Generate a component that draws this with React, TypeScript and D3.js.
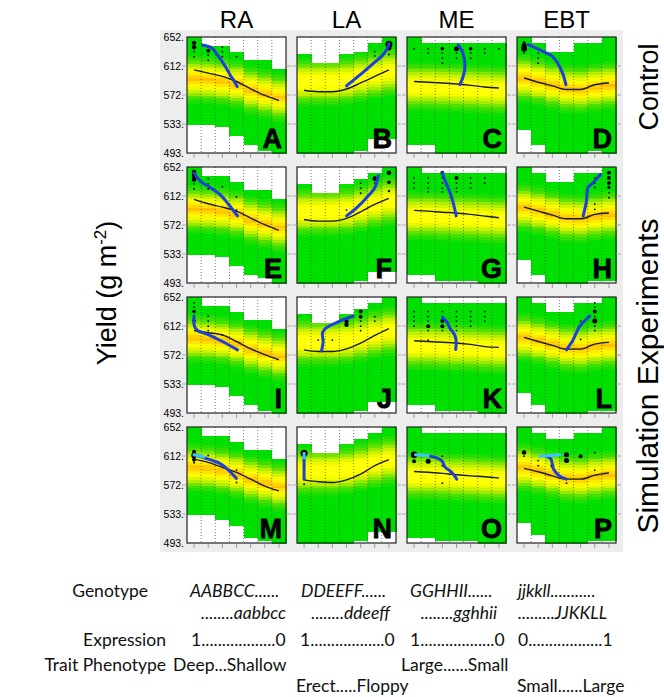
import React from "react";
import * as d3 from "d3";

// column / row labels
const colTitles = ["RA", "LA", "ME", "EBT"];
const panelLetters = "ABCDEFGHIJKLMNOP".split("");
const yTicks = [493, 532.75, 572.5, 612.25, 652];
const yTickLabels = ["493.", "533.", "572.", "612.", "652."];
const nCols = 7;

// top / bottom of the simulated yield range for each genotype column
const tops = [
  [652, 639, 639, 632, 621, 619, 608], [628, 615, 615, 628, 634, 645, 652], [652, 645, 645, 645, 645, 645, 645], [652, 645, 632, 632, 645, 645, 652],
  [652, 641, 641, 634, 621, 621, 610], [628, 617, 617, 628, 635, 646, 652], [652, 646, 646, 646, 646, 646, 646], [652, 646, 633, 633, 646, 646, 652],
  [652, 641, 641, 634, 621, 621, 610], [628, 617, 617, 628, 636, 646, 652], [652, 646, 646, 646, 646, 646, 646], [652, 646, 634, 634, 646, 646, 652],
  [652, 640, 640, 632, 621, 621, 609], [629, 615, 615, 629, 636, 646, 652], [652, 645, 645, 645, 645, 645, 645], [652, 645, 635, 635, 645, 645, 652],
];
const bottoms = [
  [533, 533, 528, 518, 505, 498, 493], [493, 493, 493, 493, 498, 511, 511], [503, 503, 493, 493, 493, 493, 493], [523, 503, 493, 493, 493, 498, 493],
  [534, 534, 528, 518, 504, 499, 493], [493, 493, 493, 493, 498, 509, 509], [503, 503, 497, 497, 497, 493, 493], [523, 504, 493, 493, 493, 498, 498],
  [533, 533, 527, 516, 503, 498, 493], [493, 493, 493, 493, 498, 508, 508], [503, 503, 498, 498, 498, 493, 493], [522, 503, 493, 493, 493, 498, 498],
  [532, 532, 526, 515, 502, 497, 493], [493, 493, 493, 493, 498, 508, 508], [502, 502, 497, 497, 497, 493, 493], [521, 503, 493, 493, 493, 498, 498],
];
// mean yield (black line)
const means = [
  [607, 602.5, 598, 591, 581, 572, 565], [579, 577, 577, 580.7, 589, 598, 607], [591, 590, 589, 587.6, 585.7, 583.5, 582], [595.8, 590, 585, 580, 580, 586.6, 589],
  [607.6, 601.6, 597, 591.5, 582, 573, 565], [580, 577.8, 577.8, 581.5, 590.6, 600.7, 609], [592.5, 591.5, 590, 589, 587, 584.7, 582.4], [597, 591.5, 586, 581, 581, 587, 589],
  [606, 603, 600, 591, 581, 573, 566], [579.6, 577.3, 577.3, 581, 588.8, 599.4, 608.7], [592, 591, 590, 589, 587, 584, 583], [596.7, 591, 585.6, 580.5, 580.5, 587.5, 589.8],
  [608, 603.6, 596.7, 589.8, 580.5, 571, 564.4], [579.6, 577, 576, 579.6, 587.5, 599, 607.3], [591, 590, 588.4, 586.5, 585, 583.8, 582], [595.3, 590.7, 585, 580.5, 580.5, 586, 589],
];
// centre of the densest yield band per column
const bands = [
  [595, 594, 592, 588, 580, 575, 570], [591, 591, 591, 593, 597, 601, 605], [585, 585, 584, 583, 582, 581, 580], [596, 592, 587, 582, 581, 584, 586],
  [595, 594, 592, 588, 580, 575, 570], [591, 591, 591, 593, 597, 602, 606], [586, 586, 585, 584, 583, 582, 581], [597, 593, 588, 583, 582, 585, 587],
  [596, 595, 593, 588, 581, 576, 571], [591, 591, 591, 593, 597, 602, 606], [586, 586, 585, 584, 583, 582, 581], [597, 593, 588, 583, 582, 585, 587],
  [597, 596, 593, 588, 581, 576, 571], [592, 592, 592, 594, 598, 603, 607], [586, 586, 585, 584, 583, 582, 581], [597, 593, 588, 583, 582, 585, 587],
];
const peaks = [1, 0, 0, 1, 1, 0, 0, 1, 1, 0, 0, 1, 1, 0, 0, 1];

// selection trajectories [column, yield]
const blues = [
  [[0.6, 641], [1.25, 637], [1.7, 626], [2.2, 612], [2.55, 600], [2.85, 591], [3.05, 584]],
  [[3.0, 585], [3.95, 600], [4.9, 616], [5.6, 628], [5.95, 639], [6.0, 643]],
  [[3.12, 641.5], [3.45, 630], [3.6, 612], [3.47, 598], [3.24, 586.6]],
  [[0.28, 641.5], [1.08, 634.6], [2.0, 625.5], [2.37, 616], [2.72, 602.6], [2.96, 586.6]],
  [[0.0, 644], [0.42, 633], [1.13, 624], [1.84, 614], [2.43, 601], [3.07, 585]],
  [[3.0, 585], [3.71, 596], [4.42, 610], [5.01, 624], [5.25, 640]],
  [[2.0, 644], [2.16, 635], [2.5, 619], [2.74, 605], [2.98, 585]],
  [[4.18, 585], [4.41, 605], [4.53, 624], [4.89, 630.5], [5.41, 642]],
  [[0.0, 626], [0.0, 614], [0.18, 607], [1.0, 600.4], [2.0, 591], [3.07, 579.6]],
  [[1.23, 578], [1.35, 591], [1.3, 603], [1.58, 610], [2.53, 619], [3.48, 626]],
  [[2.0, 624], [2.28, 619], [2.52, 610], [2.87, 600], [2.98, 591], [2.94, 580]],
  [[3.0, 579.6], [3.47, 593.5], [3.94, 612], [4.65, 625.7]],
  [[0.0, 614], [1.0, 608], [1.93, 601], [3.0, 581.5]],
  [[0, 580.5], [0, 599], [0, 613]],
  [[1.0, 612.8], [1.95, 606], [2.19, 597], [2.66, 590], [3.02, 580.5]],
  [[1.58, 612], [1.9, 608], [2.09, 594], [2.5, 585], [2.98, 580.5]],
];
const cyans = [
  [], [], [], [], [], [], [], [], [], [], [], [],
  [[0.0, 614], [0.7, 611]],
  [[0, 616], [0, 610]],
  [[0.1, 614], [1.0, 612.8]],
  [[1.1, 612], [2.55, 614]],
];
// simulation end points [column, yield, size]
const dots = [
  [[0, 644, 2.2], [0, 638, 2.2], [0, 632, 0.9], [0, 625, 0.9], [1, 638, 0.9], [1, 633, 2], [1, 627, 0.9], [1, 620, 0.9], [2, 638, 0.9], [2, 632, 0.9], [2, 625, 0.9], [3, 625, 0.9]],
  [[6, 642, 3.5], [6, 637, 2.5], [5, 632, 0.9], [5, 626, 0.9], [6, 628, 0.9]],
  [[0, 636, 0.9], [1, 636, 0.9], [2, 636, 1.8], [3, 636, 2.5], [4, 636, 1.8], [5, 636, 0.9], [6, 636, 0.9], [1, 630, 0.9], [2, 630, 0.9], [3, 630, 0.9], [4, 630, 0.9], [5, 630, 0.9], [2, 623, 0.9], [3, 623, 0.9], [4, 623, 0.9], [2, 616, 0.9]],
  [[0, 644, 1.5], [0, 640, 2.5], [0, 636, 3], [0, 630, 0.9], [1, 636, 0.9], [1, 630, 0.9], [1, 623, 0.9], [1, 616, 0.9]],
  [[0, 645, 2.3], [0, 640, 2.3], [0, 635, 2.3], [0, 629, 0.9], [0, 622, 0.9], [1, 636, 0.9], [1, 629, 0.9], [1, 622, 0.9], [2, 625, 0.9], [2, 611, 0.9], [3, 611, 0.9], [3, 593, 0.9]],
  [[6, 644, 2.3], [6, 631, 1.8], [6, 619, 1.2], [5, 636, 2.3], [5, 630, 0.9], [4, 630, 0.9], [4, 623, 0.9], [4, 616, 0.9], [3, 593, 0.9]],
  [[0, 637, 0.9], [1, 637, 0.9], [2, 644, 2], [2, 637, 0.9], [3, 637, 2], [4, 637, 0.9], [5, 637, 0.9], [0, 630, 0.9], [1, 630, 0.9], [2, 630, 0.9], [3, 630, 0.9], [4, 630, 0.9], [5, 630, 0.9], [0, 623, 0.9], [1, 623, 0.9], [2, 623, 0.9], [3, 623, 0.9], [4, 623, 0.9], [1, 618, 0.9], [2, 618, 0.9], [3, 618, 0.9]],
  [[6, 644, 2], [6, 637, 2], [6, 630, 2], [6, 624, 1.6], [6, 617, 0.9], [6, 610, 0.9], [5, 637, 0.9], [5, 630, 0.9], [5, 624, 0.9], [5, 601, 0.9], [5, 594, 0.9]],
  [[0, 644, 0.9], [0, 638, 0.9], [0, 632, 1.8], [0, 626, 0.9], [0, 619, 1.8], [1, 626, 0.9], [1, 619, 0.9], [1, 612, 0.9], [1, 606, 0.9], [2, 600, 0.9]],
  [[3, 619, 2.2], [3, 614, 2.2], [4, 632, 2], [4, 625, 2], [4, 619, 0.9], [4, 612, 0.9], [4, 606, 0.9], [5, 625, 0.9], [5, 619, 0.9], [1, 593, 0.9], [2, 593, 0.9]],
  [[0, 632, 0.9], [1, 632, 0.9], [2, 632, 0.9], [3, 632, 0.9], [4, 632, 0.9], [5, 632, 0.9], [0, 625, 0.9], [1, 625, 0.9], [2, 625, 0.9], [3, 625, 0.9], [4, 625, 0.9], [5, 625, 0.9], [0, 619, 0.9], [1, 619, 0.9], [2, 619, 2], [3, 619, 0.9], [4, 619, 0.9], [5, 619, 0.9], [0, 612, 0.9], [1, 612, 2], [2, 612, 2], [3, 612, 0.9], [4, 612, 0.9], [1, 606, 0.9], [2, 606, 0.9], [3, 606, 0.9], [1, 593, 0.9]],
  [[5, 644, 0.9], [5, 638, 0.9], [5, 632, 2], [5, 625, 0.9], [5, 619, 2.5], [5, 612, 0.9], [5, 606, 0.9], [4, 619, 0.9], [4, 612, 0.9], [4, 594, 0.9]],
  [[0, 618, 2], [0, 613, 2.8], [0, 607, 2], [0, 603, 0.9], [1, 613, 0.9], [3, 593, 0.9], [3, 576, 0.9]],
  [[0, 616, 3.5], [0, 573.6, 0.9]],
  [[0, 614, 3.2], [0, 605, 2], [1, 605, 2.5], [1, 613, 0.9], [2, 612, 0.9], [2, 599, 0.9], [2, 575, 0.9]],
  [[0, 617, 2.2], [0, 612, 0.9], [1, 606, 0.9], [1, 599, 0.9], [2, 599, 2], [3, 614, 2.5], [3, 606, 2.5], [4, 612, 2], [5, 617, 0.9], [5, 593, 0.9], [3, 575, 0.9]],
];

// bottom annotation text
const genotypeTop = ["AABBCC......", "DDEEFF......", "GGHHII......", "jjkkll..........."];
const genotypeBottom = ["........aabbcc", "........ddeeff", "........gghhii", ".........JJKKLL"];
const expression = ["1..................0", "1..................0", "1..................0", "0..................1"];
const traitTop = ["Deep...Shallow", "", "Large......Small", ""];
const traitBottom = ["", "Erect.....Floppy", "", "Small......Large"];

const panelLeft = [187, 297, 407, 517];
const panelTop = [37, 167, 297, 427];
const pw = 99;
const ph = 116;

const x = d3.scaleLinear().domain([-0.5, nCols - 0.5]).range([0, pw]);
const y = d3.scaleLinear().domain([493, 652]).range([ph, 0]);
const binEdges = d3.range(41).map((k) => 493 + (k * 159) / 40);

const hot = d3.scaleLinear<string>()
  .domain([0, 0.18, 0.4, 0.7, 1.0, 1.4])
  .range(["#ffbc00", "#ffe000", "#ffff00", "#c4f000", "#4ae000", "#00e000"])
  .clamp(true);
const mild = d3.scaleLinear<string>()
  .domain([0, 0.3, 0.65, 1.0, 1.4])
  .range(["#ffff10", "#ffff00", "#c4f000", "#4ae000", "#00e000"])
  .clamp(true);

const meanLine = d3.line<number>().x((_, i) => x(i)).y((d) => y(d)).curve(d3.curveMonotoneX);
const trajLine = d3.line<number[]>().x((d) => x(d[0])).y((d) => y(d[1])).curve(d3.curveCatmullRom.alpha(0.5));

const Panel = ({ p }: { p: number }) => {
  const r = Math.floor(p / 4);
  const c = p % 4;
  const scale = peaks[p] ? hot : mild;
  const spread = 25;
  return (
    <g transform={`translate(${panelLeft[c]},${panelTop[r]})`}>
      <rect width={pw} height={ph} fill="#fff" />
      {d3.range(nCols).map((i) =>
        binEdges.slice(0, -1).map((lo, k) => {
          const hi = binEdges[k + 1];
          const mid = (lo + hi) / 2;
          if (mid < bottoms[p][i] || mid > tops[p][i]) return null;
          const d = Math.abs(mid - bands[p][i]) / spread;
          return (
            <rect key={`${i}-${k}`} x={x(i - 0.5)} width={x(i + 0.5) - x(i - 0.5) + 0.5}
              y={y(hi)} height={y(lo) - y(hi) + 0.5} fill={scale(d)} shapeRendering="crispEdges" />
          );
        })
      )}
      {d3.range(nCols - 1).map((i) => (
        <line key={i} x1={x(i + 0.5)} x2={x(i + 0.5)} y1={0} y2={ph} stroke="#444" strokeWidth={0.7} strokeDasharray="1 2" />
      ))}
      {dots[p].map((d, i) => (
        <circle key={i} cx={x(d[0])} cy={y(d[1])} r={d[2]} fill="#000" />
      ))}
      <path d={meanLine(means[p]) || ""} fill="none" stroke="#1a1a1a" strokeWidth={1.4} />
      <path d={trajLine(blues[p]) || ""} fill="none" stroke="#1f3fdc" strokeWidth={3} strokeLinecap="round" />
      {cyans[p].length > 0 && (
        <path d={trajLine(cyans[p]) || ""} fill="none" stroke="#3cc4ff" strokeWidth={3} strokeLinecap="round" />
      )}
      <text x={pw - 4} y={ph - 5} textAnchor="end" fontFamily="'Liberation Sans', Arial, sans-serif"
        fontWeight="bold" fontSize={27} stroke="#000" strokeWidth={0.8}>{panelLetters[p]}</text>
      <rect width={pw} height={ph} fill="none" stroke="#222" strokeWidth={1.2} />
      {d3.range(nCols).map((i) => (
        <line key={i} x1={x(i)} x2={x(i)} y1={ph + 1} y2={ph + 5} stroke="#888" strokeWidth={0.8} />
      ))}
      {yTicks.slice(1, -1).map((t) => (
        <g key={t}>
          <line x1={-5} x2={0} y1={y(t)} y2={y(t)} stroke="#999" strokeWidth={0.8} />
          <line x1={pw} x2={pw + 5} y1={y(t)} y2={y(t)} stroke="#999" strokeWidth={0.8} />
        </g>
      ))}
    </g>
  );
};

export default function App() {
  const labelFont = "Lato, 'Open Sans', sans-serif";
  const textRows = [597, 619, 646, 671, 692];
  return (
    <svg width={664} height={697} style={{ position: "absolute", left: 0, top: 0 }} fontFamily="'Liberation Sans', Arial, sans-serif">
      <rect width={664} height={697} fill="#fff" />
      <rect x={160} y={30} width={463} height={522} fill="#ededed" />
      {colTitles.map((t, c) => (
        <text key={t} x={panelLeft[c] + pw / 2} y={28} textAnchor="middle" fontSize={24}>{t}</text>
      ))}
      {panelTop.map((top, r) =>
        yTicks.map((t, k) => (
          <text key={`${r}-${k}`} x={184} y={top + y(t) + 3.5} textAnchor="end" fontSize={10.5}
            fontFamily="'Liberation Sans Narrow', 'Liberation Sans', Arial, sans-serif">{yTickLabels[k]}</text>
        ))
      )}
      {d3.range(16).map((p) => <Panel key={p} p={p} />)}
      <text transform="translate(116,293) rotate(-90)" textAnchor="middle" fontSize={27}>
        Yield (g m<tspan dy={-10} fontSize={17}>-2</tspan><tspan dy={10}>)</tspan>
      </text>
      <text transform="translate(658,87) rotate(-90)" textAnchor="middle" fontSize={27}>Control</text>
      <text transform="translate(658,376) rotate(-90)" textAnchor="middle" fontSize={30}>Simulation Experiments</text>

      <g fontFamily={labelFont} fontSize={17.5} fill="#111">
        <text x={148} y={textRows[0]} textAnchor="end">Genotype</text>
        <text x={166} y={textRows[2]} textAnchor="end">Expression</text>
        <text x={166} y={textRows[3]} textAnchor="end">Trait Phenotype</text>
        {genotypeTop.map((t, c) => (
          <text key={`g1${c}`} x={[190, 301, 410, 518][c]} y={textRows[0]} fontStyle="italic">{t}</text>
        ))}
        {genotypeBottom.map((t, c) => (
          <text key={`g2${c}`} x={[286, 390, 497, 607][c]} y={textRows[1]} fontStyle="italic" textAnchor="end">{t}</text>
        ))}
        {expression.map((t, c) => (
          <text key={`e${c}`} x={[191, 300, 410, 518][c]} y={textRows[2]}>{t}</text>
        ))}
        {traitTop.map((t, c) => (
          <text key={`t1${c}`} x={[173, 0, 401, 0][c]} y={textRows[3]}>{t}</text>
        ))}
        {traitBottom.map((t, c) => (
          <text key={`t2${c}`} x={[0, 296, 0, 517][c]} y={textRows[4]}>{t}</text>
        ))}
      </g>
    </svg>
  );
}
